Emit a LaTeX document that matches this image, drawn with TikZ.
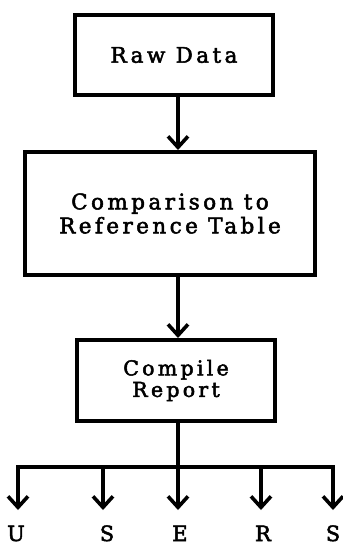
\documentclass[tikz,border=0pt]{standalone}
\usepackage{fontspec}
\setmainfont{DejaVu Serif}[LetterSpace=16,FakeBold=2.4]
\usetikzlibrary{arrows.meta}
\begin{document}
\begin{tikzpicture}[x=1pt,y=-1pt,
  box/.style={draw,line width=4pt,inner sep=0pt,align=center},
  conn/.style={line width=3.6pt,-{Straight Barb[length=11pt,width=20pt,line width=3.6pt]}},
  lbl/.style={font=\fontsize{21}{24}\selectfont,anchor=base,inner sep=0pt}]
\useasboundingbox (0,0) rectangle (343,547);
\node[box,minimum width=198pt,minimum height=80pt,font=\fontsize{21.5}{24}\selectfont] (raw) at (174,55) {Raw Data};
\node[box,minimum width=290pt,minimum height=123pt,font=\fontsize{21.5}{24}\selectfont] (cmp) at (170,213.5) {Comparison to\\Reference Table};
\node[box,minimum width=198pt,minimum height=81pt,font=\fontsize{20.5}{21.5}\selectfont] (rep) at (176,380.5) {Compile\\Report};
\coordinate (sx) at (178,0);
\draw[conn] (raw.south -| sx) -- (cmp.north -| sx);
\draw[conn] (cmp.south -| sx) -- (rep.north -| sx);
\coordinate (bl) at (18,467);
\coordinate (br) at (333,467);
\coordinate (bm) at (178,467);
\draw[line width=3.6pt] (rep.south -| sx) -- (bm);
\draw[line width=3.6pt,line cap=rect] (bl) -- (br);
\coordinate (t1) at (18,510);
\coordinate (t2) at (103,510);
\coordinate (t3) at (178,510);
\coordinate (t4) at (261,510);
\coordinate (t5) at (333,510);
\draw[conn] (bl) -- (t1);
\draw[conn] (t2 |- bl) -- (t2);
\draw[conn] (bm) -- (t3);
\draw[conn] (t4 |- bl) -- (t4);
\draw[conn] (br) -- (t5);
\node[lbl] (u) at (16,541) {U};
\node[lbl] (s1) at (107,541) {S};
\node[lbl] (e) at (180,541) {E};
\node[lbl] (r) at (263,541) {R};
\node[lbl] (s2) at (333,541) {S};
\end{tikzpicture}
\end{document}
